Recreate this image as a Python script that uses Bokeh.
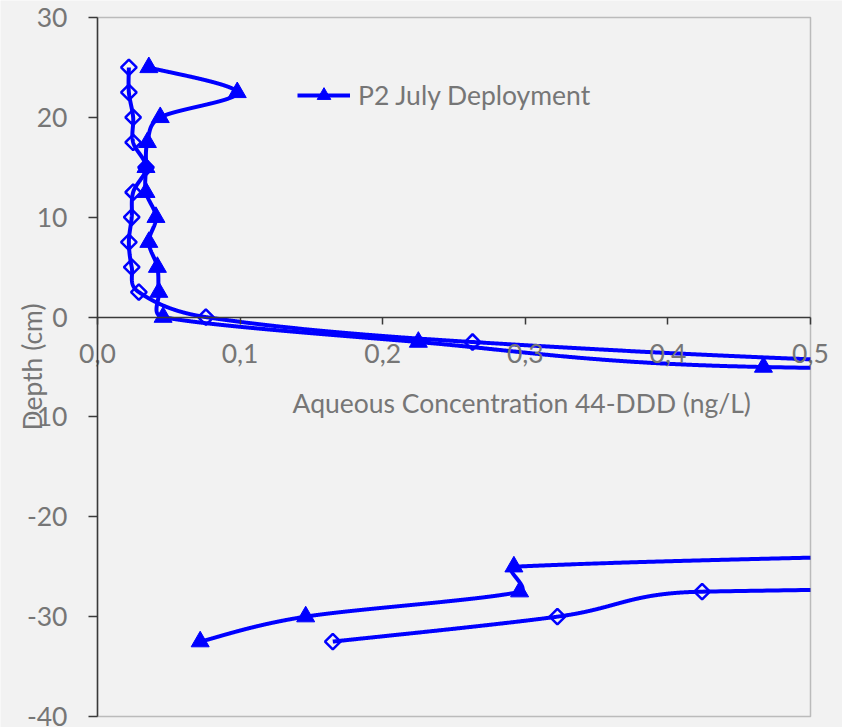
import numpy as np
from bokeh.plotting import figure
from bokeh.models import FixedTicker, Range1d, Label, Legend, LegendItem, BoxAnnotation
from bokeh.embed import file_html
from bokeh.resources import INLINE

# ---- data ----
depth = [25, 22.5, 20, 17.5, 15, 12.5, 10, 7.5, 5, 2.5, 0, -2.5, -5, -7.5, -10,
         -12.5, -15, -17.5, -20, -22.5, -25, -27.5, -30, -32.5]
# P2 July Deployment (triangles); values beyond 0.5 lie outside the plotted range
tri_conc = [0.036, 0.098, 0.044, 0.035, 0.034, 0.034, 0.041, 0.036, 0.042, 0.043,
            0.046, 0.225, 0.467, 2.0, 2.2, 2.3, 2.2, 2.0, 1.6, 1.0,
            0.292, 0.296, 0.146, 0.072]
# second series (open diamonds)
dia_conc = [0.022, 0.022, 0.025, 0.025, 0.034, 0.025, 0.024, 0.022, 0.024, 0.029,
            0.076, 0.263, 0.66, 1.5, 2.0, 2.3, 2.4, 2.4, 2.3, 2.2, 2.2,
            0.424, 0.3225, 0.165]
legend_label = "P2 July Deployment"
x_title = "Aqueous Concentration 44-DDD (ng/L)"
y_title = "Depth (cm)"
x_ticks = [0.0, 0.1, 0.2, 0.3, 0.4, 0.5]
x_tick_labels = ["0,0", "0,1", "0,2", "0,3", "0,4", "0,5"]
y_ticks = [-40, -30, -20, -10, 0, 10, 20, 30]
y_tick_labels = ["-40", "-30", "-20", "-10", "0", "10", "20", "30"]

XMIN, XMAX, YMIN, YMAX = 0.0, 0.5, -40, 30

# layout (pixels): canvas, and the plot area inside it
CW, CH = 842, 727
L, T, PW, PH = 97, 17, 713, 699
BG = "#F2F2F2"
BLUE = "#0000FF"
TXT = "#767676"
AX = "#3A3A3A"
FONT = "Lato"
FS = "26.5px"

sx = PW / (XMAX - XMIN)
sy = PH / (YMAX - YMIN)


def smooth(xs, ys, n=300):
    """Excel-like smoothed line: cubic Bezier segments (pixel space), tangents clamped."""
    P = np.column_stack([np.asarray(xs, float) * sx, np.asarray(ys, float) * sy])
    m = len(P)
    out = []
    for i in range(m - 1):
        p0 = P[i - 1] if i > 0 else P[i]
        p1, p2 = P[i], P[i + 1]
        p3 = P[i + 2] if i + 2 < m else P[i + 1]
        d = np.linalg.norm(p2 - p1)
        t1, t2 = p2 - p0, p3 - p1
        l1, l2 = np.linalg.norm(t1), np.linalg.norm(t2)
        c1 = p1 + (t1 / l1) * min(l1 / 6, d / 2) if l1 > 0 else p1
        c2 = p2 - (t2 / l2) * min(l2 / 6, d / 2) if l2 > 0 else p2
        t = np.linspace(0, 1, n)[:, None]
        seg = (1 - t) ** 3 * p1 + 3 * (1 - t) ** 2 * t * c1 + 3 * (1 - t) * t ** 2 * c2 + t ** 3 * p2
        out.append(seg if i == 0 else seg[1:])
    a = np.vstack(out)
    return a[:, 0] / sx, a[:, 1] / sy


def clip_right(xs, ys, xmax):
    """Cut the line at the right edge of the plot area (NaN gaps outside)."""
    ox, oy = [], []
    for i in range(len(xs)):
        x, y = xs[i], ys[i]
        if i > 0:
            x0, y0 = xs[i - 1], ys[i - 1]
            if (x0 <= xmax) != (x <= xmax):
                f = (xmax - x0) / (x - x0)
                ox.append(xmax)
                oy.append(y0 + f * (y - y0))
                if x > xmax:
                    ox.append(np.nan)
                    oy.append(np.nan)
        if x <= xmax:
            ox.append(x)
            oy.append(y)
    return ox, oy


def inside(xs, ys):
    pts = [(x, y) for x, y in zip(xs, ys) if XMIN <= x <= XMAX]
    return [a for a, _ in pts], [b for _, b in pts]


x_range = Range1d(XMIN - L / sx, XMIN + (CW - L) / sx)
y_range = Range1d(YMIN - (CH - T - PH) / sy, YMAX + T / sy)

p = figure(width=CW, height=CH, x_range=x_range, y_range=y_range,
           output_backend="svg", toolbar_location=None,
           min_border_left=0, min_border_right=0, min_border_top=0, min_border_bottom=0,
           background_fill_color=BG, border_fill_color=BG)
p.grid.visible = False
p.outline_line_color = None

# plot-area border
p.add_layout(BoxAnnotation(left=XMIN, right=XMAX, bottom=YMIN, top=YMAX,
                           fill_alpha=0, line_color=AX, line_width=1.5))

# x axis crossing at depth 0
xa = p.xaxis[0]
xa.fixed_location = 0
xa.bounds = (XMIN, XMAX)
xa.ticker = FixedTicker(ticks=x_ticks)
xa.major_label_overrides = {t: l for t, l in zip(x_ticks, x_tick_labels)}
xa.minor_tick_line_color = None
xa.major_tick_in = 0
xa.major_tick_out = 7
xa.axis_line_color = AX
xa.axis_line_width = 1.5
xa.major_tick_line_color = AX
xa.major_tick_line_width = 1.5
xa.major_label_text_color = TXT
xa.major_label_text_font = FONT
xa.major_label_text_font_size = FS
xa.major_label_standoff = 20

# y axis at concentration 0
ya = p.yaxis[0]
ya.fixed_location = XMIN
ya.bounds = (YMIN, YMAX)
ya.ticker = FixedTicker(ticks=y_ticks)
ya.major_label_overrides = {t: l for t, l in zip(y_ticks, y_tick_labels)}
ya.minor_tick_line_color = None
ya.major_tick_in = 0
ya.major_tick_out = 9
ya.axis_line_color = AX
ya.axis_line_width = 1.5
ya.major_tick_line_color = AX
ya.major_tick_line_width = 1.5
ya.major_label_text_color = TXT
ya.major_label_text_font = FONT
ya.major_label_text_font_size = FS
ya.major_label_standoff = 21
ya.axis_label = y_title
ya.axis_label_text_font = FONT
ya.axis_label_text_font_size = FS
ya.axis_label_text_font_style = "normal"
ya.axis_label_text_color = TXT
ya.axis_label_standoff = -24

# smoothed lines
dx, dy = clip_right(*smooth(dia_conc, depth), XMAX)
p.line(dx, dy, line_color=BLUE, line_width=4)
mx, my = inside(dia_conc, depth)
p.scatter(mx, my, marker="square", angle=np.pi / 4, size=11,
          line_color=BLUE, line_width=2.5, fill_alpha=0)

tx, ty = clip_right(*smooth(tri_conc, depth), XMAX)
tl = p.line(tx, ty, line_color=BLUE, line_width=4)
mx, my = inside(tri_conc, depth)
tm = p.scatter(mx, my, marker="triangle", size=18,
               line_color=BLUE, fill_color=BLUE, line_width=1)

legend = Legend(items=[LegendItem(label=legend_label, renderers=[tl, tm])],
                location=(297, 615), border_line_color=None, background_fill_alpha=0,
                padding=0, margin=0, glyph_width=53, glyph_height=34, label_standoff=8,
                label_text_font=FONT, label_text_font_size=FS, label_text_color=TXT)
p.add_layout(legend)

p.add_layout(Label(x=0.2975, y=-8.6, text=x_title, text_align="center",
                   text_baseline="middle", text_font=FONT, text_font_size=FS,
                   text_color=TXT))

open("out.html", "w").write(file_html(p, INLINE))
